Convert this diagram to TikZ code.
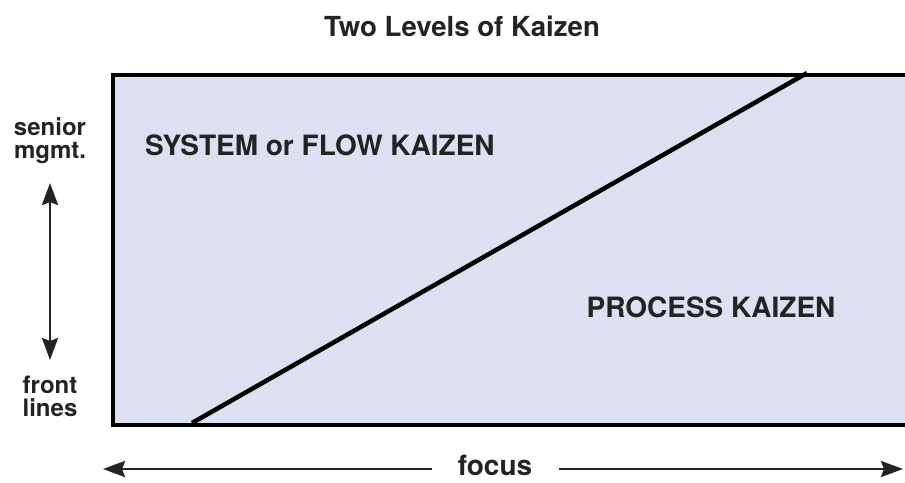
\documentclass[tikz,border=0pt]{standalone}
\usepackage{fontspec}
\setmainfont{TeX Gyre Heros}
\usetikzlibrary{positioning, arrows.meta}
\definecolor{kaizenfill}{RGB}{221,224,241}
\definecolor{inkgray}{RGB}{35,35,35}

\begin{document}
\begin{tikzpicture}[x=1pt,y=-1pt,font=\bfseries,text=inkgray]
\tikzstyle{heading} = [font=\fontsize{27.6}{30}\selectfont\bfseries, inner sep=0pt]
\tikzstyle{axislabel} = [font=\fontsize{24}{23}\selectfont\bfseries, align=center, inner sep=0pt]
\tikzstyle{region} = [font=\fontsize{28}{30}\selectfont\bfseries, inner sep=0pt]
\tikzstyle{arrow} = [line width=2.7pt, draw=inkgray, -{Stealth[length=22pt,width=16pt,inset=3pt]}]

\useasboundingbox (0,0) rectangle (905,482);
\clip (0,0) rectangle (905,482);

\node (panel) [draw, line width=4pt, fill=kaizenfill, anchor=north west,
  minimum width=820pt, minimum height=350pt, inner sep=0pt] at (111,73) {};
\coordinate (lowend) at (192,423);
\coordinate (highend) at (807,73);
\draw [line width=4.5pt] (lowend) -- (highend);

\node (title) [heading, anchor=base] at (462,36) {Two Levels of Kaizen};
\node (system) [region, anchor=base west] at (145,155) {SYSTEM or FLOW KAIZEN};
\node (process) [region, anchor=base] at (711,317) {PROCESS KAIZEN};

\node (senior) [axislabel] at (50,141) {senior\\mgmt.};
\node (front) [axislabel] at (50,396) {front\\lines};
\coordinate (midaxis) at (50,272);
\coordinate (uptip) at (50,183);
\coordinate (downtip) at (50,360);
\draw [arrow] (midaxis) -- (uptip);
\draw [arrow] (midaxis) -- (downtip);

\node (focus) [region, anchor=base] at (495,475) {focus};
\coordinate (lefttip) at (103,469);
\coordinate (righttip) at (903,469);
\draw [arrow] ([xshift=-26pt]focus.west |- lefttip) -- (lefttip);
\draw [arrow] ([xshift=27pt]focus.east |- righttip) -- (righttip);
\end{tikzpicture}
\end{document}
